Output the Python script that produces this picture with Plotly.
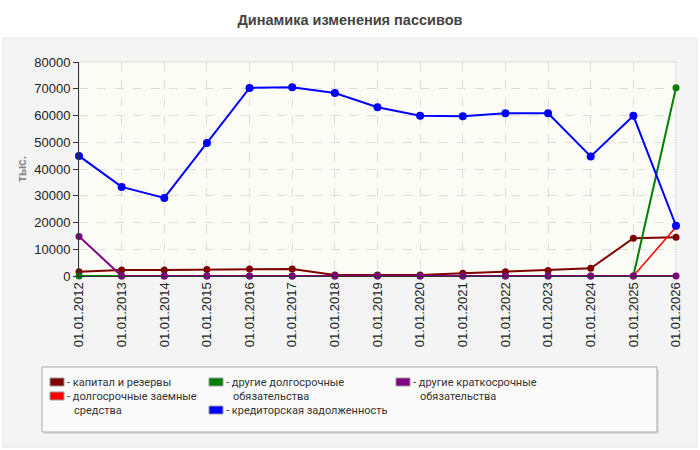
import plotly.graph_objects as go

# данные
dates = ['01.01.%d' % y for y in range(2012, 2027)]

kapital = [1600, 2250, 2250, 2400, 2600, 2600, 370, 400, 400, 1000, 1600, 2100, 2870, 14100, 14450]
dolg_zaem = [0, 0, 0, 0, 0, 0, 0, 0, 0, 0, 0, 0, 0, 0, 18300]
drugie_dolg = [0, 0, 0, 0, 0, 0, 0, 0, 0, 0, 0, 0, 0, 0, 70400]
kreditor = [44900, 33300, 29200, 49700, 70300, 70600, 68400, 63100, 59900, 59700, 60800, 60800, 44700, 59900, 18800]
drugie_krat = [14800, 0, 0, 0, 0, 0, 0, 0, 0, 0, 0, 0, 0, 0, 0]

names = ['капитал и резервы', 'долгосрочные заемные<br>средства', 'другие долгосрочные<br>обязательства',
         'кредиторская задолженность', 'другие краткосрочные<br>обязательства']
colors = ['#800000', '#ff0000', '#008000', '#0000ff', '#800080']
series = [kapital, dolg_zaem, drugie_dolg, kreditor, drugie_krat]
widths = [2, 1.5, 2, 2, 2]
msizes = [7, 5, 7, 8, 7]

# область графика в пикселях
L, R, T, B = 79, 676, 62, 276

def px(x):
    return (x - L) / (R - L)

def py(y):
    return (B - y) / (B - T)

fig = go.Figure()
for s, n, c, w, m in zip(series, names, colors, widths, msizes):
    fig.add_trace(go.Scatter(x=dates, y=s, name=n.replace('<br>', ' '), mode='lines+markers',
                             line=dict(color=c, width=w),
                             marker=dict(color=c, size=m),
                             cliponaxis=False, showlegend=False))

# фон: серая рамка
fig.add_shape(type='rect', xref='paper', yref='paper', layer='below',
              x0=px(3), x1=px(697), y0=py(447), y1=py(38),
              fillcolor='#f4f4f4', line=dict(color='#e6e6e6', width=1))
# рамка области графика
fig.add_shape(type='rect', xref='paper', yref='paper', layer='below',
              x0=0, x1=1, y0=0, y1=1,
              fillcolor='#fcfcf6', line=dict(color='#dddddd', width=1))

# легенда вручную
fig.add_shape(type='rect', xref='paper', yref='paper',
              x0=px(44), x1=px(659), y0=py(434), y1=py(369),
              fillcolor='#dddddd', line=dict(width=0))
fig.add_shape(type='rect', xref='paper', yref='paper',
              x0=px(42), x1=px(657), y0=py(432), y1=py(367),
              fillcolor='#fafafa', line=dict(color='#aaaaaa', width=1))

leg_pos = [(50, 382), (50, 396), (209, 382), (209, 410), (396, 382)]
for (lx, ly), n, c in zip(leg_pos, names, colors):
    fig.add_shape(type='rect', xref='paper', yref='paper',
                  x0=px(lx), x1=px(lx + 14), y0=py(ly + 4), y1=py(ly - 4),
                  fillcolor=c, line=dict(color='#999999', width=1))
    for i, part in enumerate(n.split('<br>')):
        fig.add_annotation(xref='paper', yref='paper',
                           x=px(lx + 15 if i == 0 else lx + 22), y=py(ly + 14 * i),
                           xanchor='left', yanchor='middle', showarrow=False,
                           text=('- ' + part) if i == 0 else part,
                           font=dict(family='Roboto, sans-serif', size=11, color='#333333'))

fig.add_annotation(xref='paper', yref='paper', x=px(22), y=0.5, textangle=-90,
                   xanchor='center', yanchor='middle',
                   text='<b>тыс.</b>', showarrow=False, font=dict(size=12, color='#888888'))

fig.update_layout(
    width=700, height=450,
    margin=dict(l=L, r=700 - R, t=T, b=450 - B),
    paper_bgcolor='white', plot_bgcolor='rgba(0,0,0,0)',
    font=dict(family='Liberation Sans, Arial, sans-serif', size=13, color='#222222'),
    title=dict(text='<b>Динамика изменения пассивов</b>', x=0.5, xanchor='center',
               y=1 - 20 / 450, yanchor='middle', font=dict(size=14.5, color='#444444')),
)
fig.update_xaxes(type='category', range=[0, 14], tickangle=-90,
                 showgrid=True, gridcolor='#dddddd', griddash='dash',
                 showline=True, linecolor='#333333', ticks='', zeroline=False)
fig.update_yaxes(range=[0, 80000], dtick=10000, tickformat='d',
                 showgrid=True, gridcolor='#dddddd', griddash='dash',
                 showline=True, linecolor='#333333', ticks='outside', ticklen=5,
                 tickcolor='#333333', zeroline=False)

fig.write_html("out.html", config={'displayModeBar': False},
               post_script="document.body.style.margin='0';")
